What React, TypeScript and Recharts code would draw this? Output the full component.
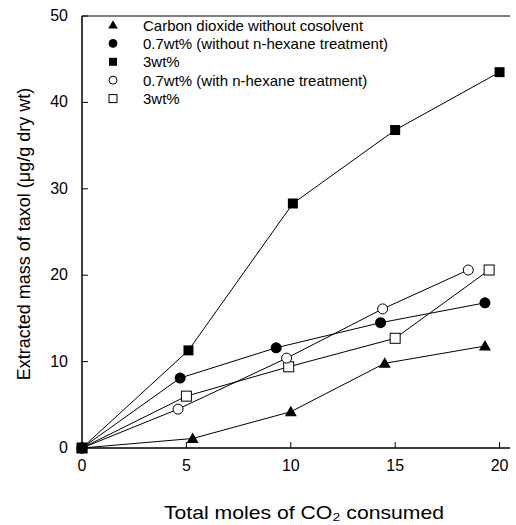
import React from 'react';
import { LineChart, Line, XAxis, YAxis, ReferenceLine } from 'recharts';

const xTicks = [0, 5, 10, 15, 20];
const yTicks = [0, 10, 20, 30, 40, 50];

const co2X = [0, 5.3, 10.0, 14.5, 19.3];
const co2Y = [0, 1.1, 4.2, 9.8, 11.8];

const low07X = [0, 4.7, 9.3, 14.3, 19.3];
const low07Y = [0, 8.1, 11.6, 14.5, 16.8];

const wt3X = [0, 5.1, 10.1, 15.0, 20.0];
const wt3Y = [0, 11.3, 28.3, 36.8, 43.5];

const hex07X = [0, 4.6, 9.8, 14.4, 18.5];
const hex07Y = [0, 4.5, 10.4, 16.1, 20.6];

const hex3X = [0, 5.0, 9.9, 15.0, 19.5];
const hex3Y = [0, 6.0, 9.4, 12.7, 20.6];

const zip = (xs: number[], ys: number[]) => xs.map((x, i) => ({ x, y: ys[i] }));

type Shape = 'triangle' | 'circle' | 'square' | 'openCircle' | 'openSquare';

const series: { name: string; shape: Shape; data: { x: number; y: number }[] }[] = [
  { name: 'Carbon dioxide without cosolvent', shape: 'triangle', data: zip(co2X, co2Y) },
  { name: '0.7wt% (without n-hexane treatment)', shape: 'circle', data: zip(low07X, low07Y) },
  { name: '3wt%', shape: 'square', data: zip(wt3X, wt3Y) },
  { name: '0.7wt% (with n-hexane treatment)', shape: 'openCircle', data: zip(hex07X, hex07Y) },
  { name: '3wt%', shape: 'openSquare', data: zip(hex3X, hex3Y) },
];

// draw the filled circles last so the origin shows a black dot
const drawOrder = [4, 3, 0, 2, 1];

const FONT = '"Liberation Sans", Arial, sans-serif';

function Marker({ shape, cx, cy, small }: { shape: Shape; cx: number; cy: number; small?: boolean }) {
  const k = small ? 0.8 : 1;
  switch (shape) {
    case 'triangle':
      return (
        <polygon
          points={`${cx},${cy - 6 * k} ${cx - 6 * k},${cy + 4.5 * k} ${cx + 6 * k},${cy + 4.5 * k}`}
          fill="#000"
        />
      );
    case 'circle':
      return <circle cx={cx} cy={cy} r={5.5 * k} fill="#000" />;
    case 'square':
      return <rect x={cx - 5 * k} y={cy - 5 * k} width={10 * k} height={10 * k} fill="#000" />;
    case 'openCircle':
      return <circle cx={cx} cy={cy} r={5 * k} fill="#fff" stroke="#000" strokeWidth={1} />;
    default:
      return (
        <rect x={cx - 5 * k} y={cy - 5 * k} width={10 * k} height={10 * k} fill="#fff" stroke="#000" strokeWidth={1} />
      );
  }
}

const XTick = (props: any) => {
  const { x, y, payload } = props;
  return (
    <g>
      <line x1={x} y1={y} x2={x} y2={y - 6} stroke="#000" strokeWidth={1} />
      <text x={x} y={y + 23} textAnchor="middle" fontSize={16} fontFamily={FONT} fill="#000">
        {payload.value}
      </text>
    </g>
  );
};

const YTick = (props: any) => {
  const { x, y, payload } = props;
  return (
    <g>
      <line x1={x} y1={y} x2={x + 6} y2={y} stroke="#000" strokeWidth={1} />
      <text x={x - 14} y={y + 5} textAnchor="end" fontSize={16} fontFamily={FONT} fill="#000">
        {payload.value}
      </text>
    </g>
  );
};

const XLabel = () => (
  <text
    x={304}
    y={519}
    textAnchor="middle"
    fontSize={19}
    textLength={280}
    lengthAdjust="spacingAndGlyphs"
    fontFamily={FONT}
    fill="#000"
  >
    Total moles of CO₂ consumed
  </text>
);

const YLabel = (props: any) => {
  const { viewBox } = props;
  const cx = 24;
  const cy = viewBox.y + viewBox.height / 2 + 2;
  return (
    <text
      x={cx}
      y={cy}
      transform={`rotate(-90, ${cx}, ${cy})`}
      textAnchor="middle"
      dominantBaseline="central"
      fontSize={18}
      fontFamily={FONT}
      fill="#000"
    >
      Extracted mass of taxol (μg/g dry wt)
    </text>
  );
};

const LegendBox = () => (
  <svg width={300} height={100} style={{ position: 'absolute', left: 105, top: 16 }}>
    {series.map((s, i) => (
      <g key={i}>
        <Marker shape={s.shape} cx={8} cy={9 + i * 18.4} small />
        <text x={38} y={14.5 + i * 18.4} fontSize={15} fontFamily={FONT} fill="#000">
          {s.name}
        </text>
      </g>
    ))}
  </svg>
);

export default function App() {
  return (
    <div style={{ position: 'absolute', left: 0, top: 0, width: 516, height: 525 }}>
      <LineChart width={516} height={525} margin={{ top: 16, right: 6, left: 22, bottom: 0 }}>
        <XAxis
          type="number"
          dataKey="x"
          domain={[0, 20.5]}
          ticks={xTicks}
          tickLine={false}
          tickSize={0}
          tickMargin={0}
          tick={<XTick />}
          height={77}
          allowDuplicatedCategory={false}
          axisLine={{ stroke: '#000', strokeWidth: 1.5 }}
          label={<XLabel />}
        />
        <YAxis
          type="number"
          domain={[0, 50]}
          ticks={yTicks}
          tickLine={false}
          tickSize={0}
          tickMargin={0}
          tick={<YTick />}
          width={60}
          axisLine={{ stroke: '#000', strokeWidth: 1.5 }}
          label={<YLabel />}
        />
        <ReferenceLine y={50} stroke="#000" strokeWidth={1} />
        {drawOrder.map((i) => {
          const s = series[i];
          return (
            <Line
              key={i}
              data={s.data}
              dataKey="y"
              name={s.name}
              stroke="#000"
              strokeWidth={1}
              isAnimationActive={false}
              dot={(p: any) => <Marker key={`${i}-${p.index}`} shape={s.shape} cx={p.cx} cy={p.cy} />}
              activeDot={false}
            />
          );
        })}
      </LineChart>
      <LegendBox />
    </div>
  );
}
